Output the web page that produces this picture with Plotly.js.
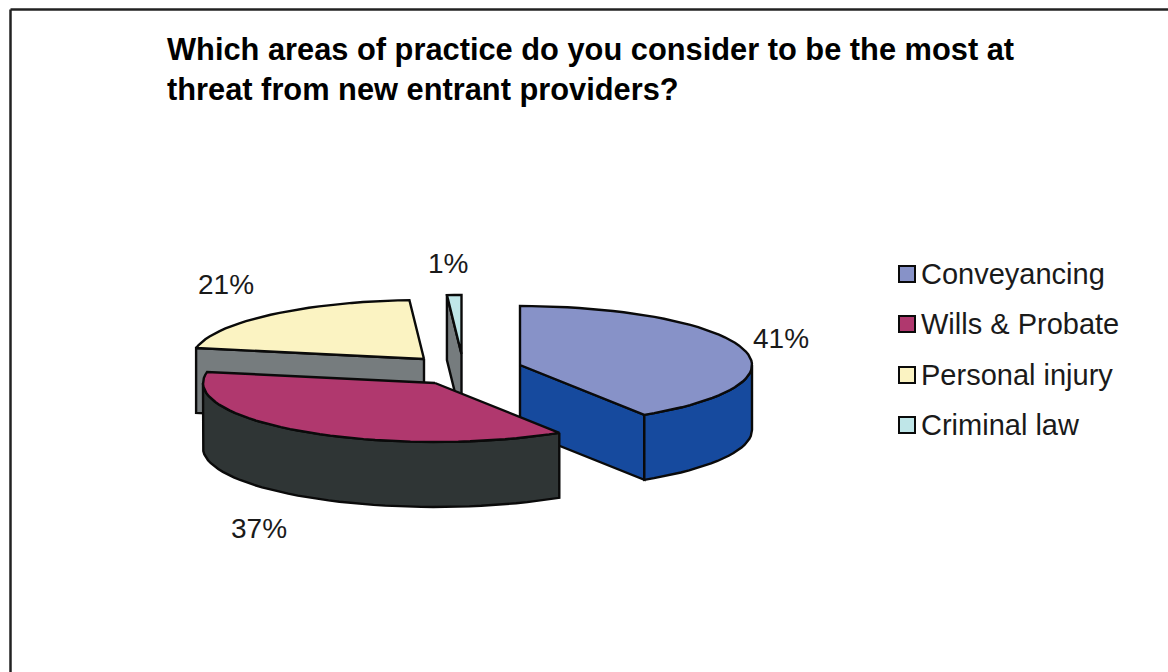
<!DOCTYPE html>
<html>
<head>
<meta charset="utf-8">
<script src="https://cdn.plot.ly/plotly-3.0.1.min.js"></script>
<style>html,body{margin:0;padding:0;background:#fff}#chart{width:1168px;height:672px}</style>
</head>
<body>
<div id="chart"></div>
<script>
// Survey answers, in percent
const categories = ["Conveyancing", "Wills & Probate", "Personal injury", "Criminal law"];
const shares = [41, 37, 21, 1];

// Slice styling
const topColors = ["#8792c8", "#b0386e", "#fbf3c2", "#bfe6e8"];
const sideColors = ["#164a9e", "#2f3535", "#767c7e", "#767c7e"];

// Exploded hub of each slice, on the page-sized axes
const hubX = [520, 435, 424, 461.5];
const hubY = [365, 383, 359, 354];
const radiusX = 232, radiusY = 59, depth = 65;

// Where each percent label sits, and the order slices are stacked in
const labelX = [781, 259, 226, 448];
const labelY = [338, 528, 284, 263];
const paintOrder = [0, 3, 2, 1];

// Key placement
const keyX = 907;
const keyTextX = 921;
const keyY = [274, 324, 375, 425];
const keyTextY = [277, 327, 378, 428];

const RAD = Math.PI / 180;
const rim = (i, deg) => [hubX[i] + radiusX * Math.sin(deg * RAD), hubY[i] - radiusY * Math.cos(deg * RAD)];

function polygon(points, fill) {
  return {
    type: "scatter", mode: "lines", x: points.map(p => p[0]), y: points.map(p => p[1]),
    fill: "toself", fillcolor: fill, line: {color: "#0a0a0a", width: 2.4}, showlegend: false, hoverinfo: "skip"
  };
}

function arc(i, from, to) {
  const pts = [], steps = Math.max(2, Math.ceil(Math.abs(to - from) / 3));
  for (let s = 0; s <= steps; s++) pts.push(rim(i, from + (to - from) * s / steps));
  return pts;
}
const drop = p => [p[0], p[1] + depth];

// Turn each share into a wedge: cut faces, outer wall and top, back to front
const angles = [];
shares.reduce((sum, v, i) => { angles[i] = [sum * 3.6, (sum + v) * 3.6]; return sum + v; }, 0);

const traces = [];
paintOrder.forEach(i => {
  const [a0, a1] = angles[i];
  const hub = [hubX[i], hubY[i]];
  const cut = deg => { const e = rim(i, deg); return [hub, e, drop(e), drop(hub), hub]; };
  if (Math.cos((a0 - 90) * RAD) < -1e-6) traces.push(polygon(cut(a0), sideColors[i]));
  if (Math.cos((a1 + 90) * RAD) < -1e-6) traces.push(polygon(cut(a1), sideColors[i]));
  const from = Math.max(a0, 90), to = Math.min(a1, 270);
  if (to > from) {
    const edge = arc(i, from, to);
    traces.push(polygon(edge.concat(edge.slice().reverse().map(drop), [edge[0]]), sideColors[i]));
  }
  traces.push(polygon([hub].concat(arc(i, a0, a1), [hub]), topColors[i]));
});

// Colour key beside the pie: swatches, then their names
traces.push({
  type: "scatter", mode: "markers", x: categories.map(() => keyX), y: keyY,
  showlegend: false, hoverinfo: "skip",
  marker: {symbol: "square", size: 16, color: topColors, line: {color: "#0a0a0a", width: 2}}
});
traces.push({
  type: "scatter", mode: "text", x: categories.map(() => keyTextX), y: keyTextY,
  text: categories, textposition: "middle right", showlegend: false, hoverinfo: "skip",
  textfont: {family: "Liberation Sans", size: 29, color: "#1a1a1a"}
});

const layout = {
  width: 1168, height: 672,
  margin: {l: 0, r: 0, t: 0, b: 0},
  paper_bgcolor: "#fff", plot_bgcolor: "#fff",
  showlegend: false,
  xaxis: {range: [0, 1168], visible: false, fixedrange: true},
  yaxis: {range: [672, 0], visible: false, fixedrange: true},
  title: {
    text: "Which areas of practice do you consider to be the most at<br>threat from new entrant providers?",
    x: 167 / 1168, xanchor: "left", xref: "paper",
    y: 1 - 60 / 672, yanchor: "middle", yref: "paper",
    font: {family: "Liberation Sans", size: 30.8, color: "#000", weight: 700}
  },
  annotations: shares.map((v, i) => ({
    x: labelX[i], y: labelY[i], xref: "x", yref: "y", text: v + "%", showarrow: false,
    xanchor: "center", yanchor: "middle",
    font: {family: "Liberation Sans", size: 28, color: "#1a1a1a"}
  })),
  shapes: [
    {type: "line", xref: "paper", yref: "paper", x0: 10.5 / 1168, x1: 1, y0: 1 - 9.5 / 672, y1: 1 - 9.5 / 672, line: {color: "#222", width: 2.5}},
    {type: "line", xref: "paper", yref: "paper", x0: 10.5 / 1168, x1: 10.5 / 1168, y0: 0, y1: 1 - 9.5 / 672, line: {color: "#222", width: 2.5}}
  ]
};

Plotly.newPlot("chart", traces, layout, {displayModeBar: false, staticPlot: true});
</script>
</body>
</html>
